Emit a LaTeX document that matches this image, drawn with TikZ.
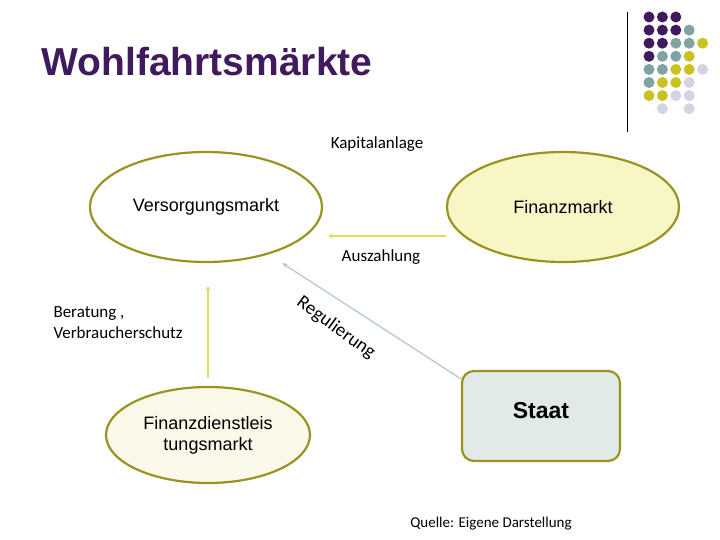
\documentclass[tikz,border=0pt]{standalone}
\usepackage{fontspec}
\setmainfont{Liberation Sans}
\newfontfamily\carl{Carlito}
\usetikzlibrary{shapes.geometric,arrows.meta}
\definecolor{pur}{HTML}{3F1A5C}
\definecolor{tealc}{HTML}{7FA3A3}
\definecolor{yel}{HTML}{C8C31E}
\definecolor{lav}{HTML}{D4D4E4}
\definecolor{oliv}{HTML}{9B9320}
\definecolor{arr}{HTML}{E6DE5A}
\definecolor{diag}{HTML}{BCCFD6}
\definecolor{fmfill}{HTML}{F8F6C4}
\definecolor{fdfill}{HTML}{FAF8E8}
\definecolor{stfill}{HTML}{E1E9E9}
\tikzset{ell/.style={ellipse,draw=oliv,line width=2.2pt,minimum width=232pt,minimum height=110pt,font=\fontsize{18}{21}\selectfont,align=center},
lab/.style={font=\carl\fontsize{17}{21}\selectfont},
dot/.style={circle,minimum size=11pt,inner sep=0pt}}
\begin{document}
\begin{tikzpicture}[x=1pt,y=-1pt]
\useasboundingbox (0,0) rectangle (720,540);
\node[anchor=west,text=pur,font=\bfseries\fontsize{39}{44}\selectfont] (t) at (38,62) {Wohlfahrtsmärkte};
\draw[line width=1pt] (627,12) coordinate (la) -- (627,132) coordinate (lb);
\foreach \r/\row in {0/{P,P,P},1/{P,P,P,T},2/{P,P,T,T,Y},3/{P,T,T,Y},4/{T,T,Y,Y,L},5/{T,Y,Y,L},6/{Y,Y,L,L},7/{N,L,N,L}}{
 \foreach \c [count=\i from 0] in \row {
  \if\c N\else
  \def\cc{pur}\if\c T\def\cc{tealc}\fi\if\c Y\def\cc{yel}\fi\if\c L\def\cc{lav}\fi
  \node[dot,fill=\cc] (d\r\i) at (649+13.4*\i,17+13.1*\r) {};
  \fi}}
\node[ell,fill=white] (v) at (206,207) {Versorgungsmarkt};
\node[ell,fill=fmfill] (f) at (563,207) {Finanzmarkt};
\node[ell,fill=fdfill,minimum width=204pt,minimum height=96pt] (fd) at (208,435) {Finanzdienstleis\\tungsmarkt};
\node[draw=oliv,line width=2.2pt,rounded corners=12pt,fill=stfill,minimum width=158pt,minimum height=90pt,font=\bfseries\fontsize{23}{26}\selectfont] (s) at (541,416) {\raisebox{12pt}{Staat}};
\draw[arr,line width=1.5pt,-{Stealth[length=5pt,width=5pt]}] (f.west |- 0,236) coordinate (a1) -- (328,236) coordinate (a2);
\draw[arr,line width=1.2pt,-{Stealth[length=5pt,width=5pt]}] (fd.north) ++(0,-8) coordinate (b1) -- (208,286) coordinate (b2);
\draw[diag,line width=1.5pt,-{Stealth[length=6pt,width=5pt]}] (s.north west) ++(0,9) coordinate (c1) -- (282,263) coordinate (c2);
\node[lab] (k) at (377,144) {Kapitalanlage};
\node[lab] (au) at (381,257) {Auszahlung};
\node[lab,anchor=west,align=left] (be) at (50,323) {Beratung ,\\Verbraucherschutz};
\node[lab,rotate=-36,font=\carl\fontsize{19}{22}\selectfont] (re) at (336,328) {Regulierung};
\node[lab,font=\carl\fontsize{15}{18}\selectfont] (q) at (491,524) {Quelle: Eigene Darstellung};
\end{tikzpicture}
\end{document}
